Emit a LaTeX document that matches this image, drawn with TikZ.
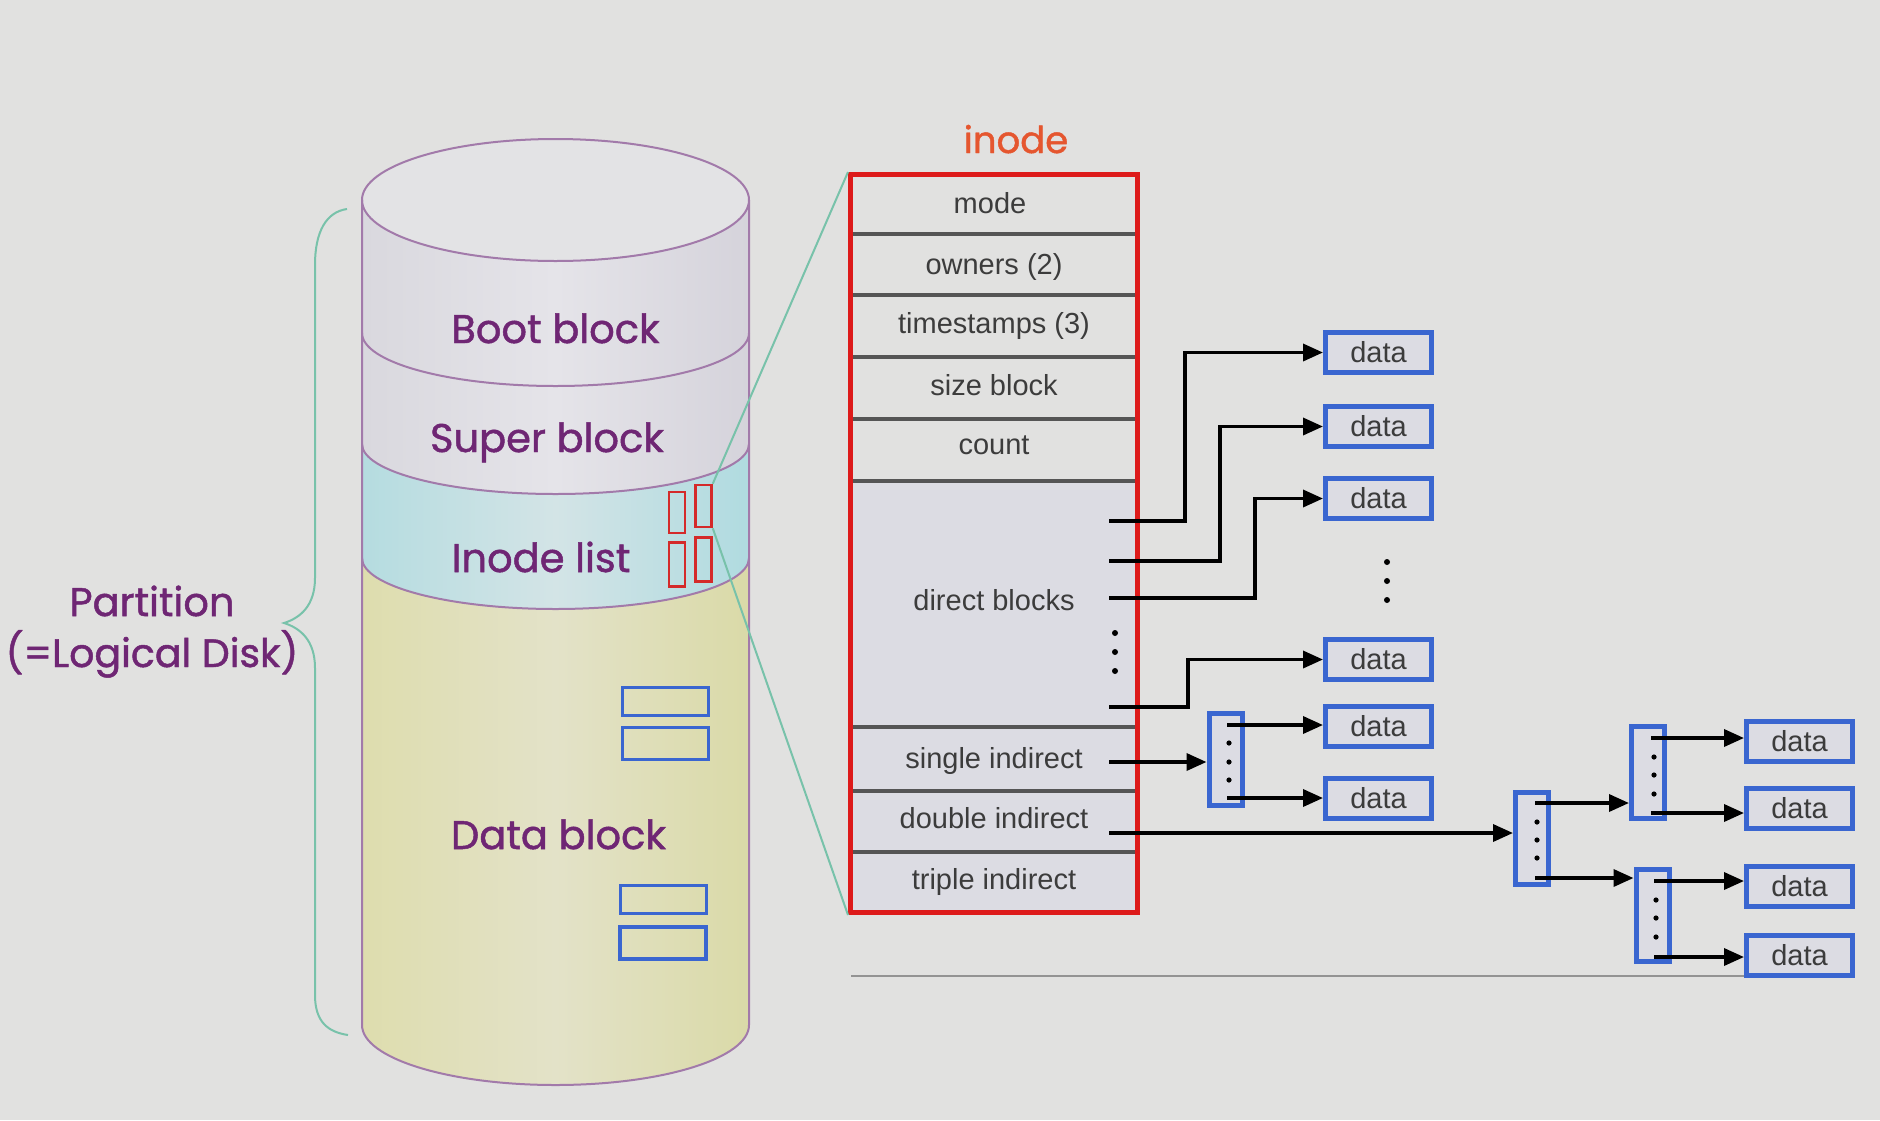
\documentclass[tikz,border=0pt]{standalone}
\usepackage{fontspec}
\setmainfont{Liberation Sans}
\newfontfamily\comic[FakeBold=1.2]{Poppins}
\usetikzlibrary{arrows.meta,calc}
\definecolor{bg}{HTML}{E1E1E0}
\definecolor{cylline}{HTML}{A27AAA}
\definecolor{purpletext}{HTML}{6F2674}
\definecolor{inodered}{HTML}{DD1A1A}
\definecolor{smallred}{HTML}{D42A2A}
\definecolor{blockblue}{HTML}{3A66D0}
\definecolor{tealline}{HTML}{78C2AA}
\definecolor{rowtext}{HTML}{3C3C3C}
\definecolor{lav}{HTML}{DCDCE3}
\definecolor{sepgray}{HTML}{555555}
\definecolor{inodelabel}{HTML}{E5562F}
\definecolor{dataL}{HTML}{DEDDAE}
\definecolor{dataR}{HTML}{DADAA8}
\definecolor{dataM}{HTML}{E3E2C8}
\definecolor{inoL}{HTML}{B5DCE0}
\definecolor{inoR}{HTML}{B0DBE0}
\definecolor{inoM}{HTML}{D3E4E6}
\definecolor{bandL}{HTML}{D9D8DE}
\definecolor{bandR}{HTML}{D5D3DB}
\definecolor{bandM}{HTML}{E5E4E9}
\definecolor{topfill}{HTML}{E3E3E5}
\begin{document}
\begin{tikzpicture}[x=1pt,y=1pt,
  cyltext/.style={font=\comic\fontsize{40}{46}\selectfont, text=purpletext, anchor=base, inner sep=0pt},
  rowlabel/.style={font=\fontsize{29}{34}\selectfont, text=rowtext, anchor=base, inner sep=0pt},
  databox/.style={draw=blockblue, line width=5pt, fill=lav, minimum width=106pt, minimum height=40pt, inner sep=0pt, font=\fontsize{29}{34}\selectfont, text=rowtext},
  idxbox/.style={draw=blockblue, line width=5pt, fill=lav, minimum width=33pt, minimum height=92pt, inner sep=0pt},
  redrect/.style={draw=smallred, line width=2.5pt, minimum width=16pt, inner sep=0pt},
  bluerect/.style={draw=blockblue, line width=3.5pt, minimum width=86pt, inner sep=0pt},
  ptr/.style={draw=black, line width=3.5pt, -{Triangle[length=20pt,width=17pt]}},
  sepline/.style={draw=sepgray, line width=3.5pt},
  cyl/.style={draw=cylline, line width=2pt},
  dotc/.style={fill=black}
]
\useasboundingbox (0,0) rectangle (1880,-1120);
\fill[bg] (0,0) rectangle (1880,-1120);

% ---------- cylinder ----------
\path[left color=dataL, right color=dataR, middle color=dataM] (362,-558) -- (362,-1025)
  arc[start angle=180,end angle=360,x radius=193.5,y radius=60] -- (749,-558)
  arc[start angle=0,end angle=-180,x radius=193.5,y radius=51] -- cycle;
\path[left color=inoL, right color=inoR, middle color=inoM] (362,-444) -- (362,-558)
  arc[start angle=180,end angle=360,x radius=193.5,y radius=51] -- (749,-444)
  arc[start angle=0,end angle=-180,x radius=193.5,y radius=50] -- cycle;
\path[left color=bandL, right color=bandR, middle color=bandM] (362,-333) -- (362,-444)
  arc[start angle=180,end angle=360,x radius=193.5,y radius=50] -- (749,-333)
  arc[start angle=0,end angle=-180,x radius=193.5,y radius=53] -- cycle;
\path[left color=bandL, right color=bandR, middle color=bandM] (362,-200) -- (362,-333)
  arc[start angle=180,end angle=360,x radius=193.5,y radius=53] -- (749,-200)
  arc[start angle=0,end angle=-180,x radius=193.5,y radius=61] -- cycle;
\path[fill=topfill] (555.5,-200) ellipse[x radius=193.5,y radius=61];
\draw[cyl] (555.5,-200) ellipse[x radius=193.5,y radius=61];
\draw[cyl] (362,-200) -- (362,-1025) arc[start angle=180,end angle=360,x radius=193.5,y radius=60] -- (749,-200);
\draw[cyl] (362,-333) arc[start angle=180,end angle=360,x radius=193.5,y radius=53];
\draw[cyl] (362,-444) arc[start angle=180,end angle=360,x radius=193.5,y radius=50];
\draw[cyl] (362,-558) arc[start angle=180,end angle=360,x radius=193.5,y radius=51];

\node[cyltext] (boot) at (555.5,-343) {Boot block};
\node[cyltext] (super) at (547,-452) {Super block};
\node[cyltext] (ilist) at (541,-572) {Inode list};
\node[cyltext] (dblock) at (558.5,-849) {Data block};

% small red inode rects
\node[redrect, minimum height=41pt] (r1) at (677,-512.5) {};
\node[redrect, minimum height=42pt] (r2) at (703.5,-506) {};
\node[redrect, minimum height=44pt] (r3) at (677,-564.5) {};
\node[redrect, minimum height=44pt] (r4) at (703.5,-559.5) {};

% small blue data rects
\node[bluerect, minimum height=28pt] (b1) at (665.5,-701.5) {};
\node[bluerect, minimum height=32pt] (b2) at (665.5,-743.5) {};
\node[bluerect, minimum height=28pt] (b3) at (663.5,-899.5) {};
\node[bluerect, minimum height=32pt] (b4) at (663,-943) {};

% partition brace and label
\draw[tealline, line width=2pt] (347,-209) .. controls (326,-212) and (315,-232) .. (315,-265)
  -- (315,-578) .. controls (315,-606) and (300,-618) .. (284,-623)
  .. controls (300,-628) and (315,-640) .. (315,-668)
  -- (315,-995) .. controls (315,-1022) and (328,-1032) .. (348,-1035);
\node[cyltext, font=\comic\fontsize{40}{46}\selectfont] (part1) at (152,-616) {Partition};
\node[cyltext, font=\comic\fontsize{39.5}{46}\selectfont] (part2) at (152,-667) {(=Logical Disk)};

% ---------- inode ----------
\fill[lav] (853,-481) rectangle (1135,-913);
\node[draw=inodered, line width=5pt, minimum width=287pt, minimum height=738pt, inner sep=0pt] (ibox) at (994,-543.5) {};
\node[cyltext, text=inodelabel, font=\comic\fontsize{37}{42}\selectfont] (ilabel) at (1016,-153) {inode};
\foreach \yy in {234,295,357,419,481,727,791,852}
  \draw[sepline] (853,-\yy) -- (1135,-\yy);
\node[rowlabel] (mode) at (990,-213) {mode};
\node[rowlabel] (owners) at (994,-274) {owners (2)};
\node[rowlabel] (times) at (994,-333) {timestamps (3)};
\node[rowlabel] (size) at (994,-395) {size block};
\node[rowlabel] (count) at (994,-454) {count};
\node[rowlabel] (direct) at (994,-610) {direct blocks};
\node[rowlabel] (single) at (994,-768) {single indirect};
\node[rowlabel] (double) at (994,-828) {double indirect};
\node[rowlabel] (triple) at (994,-889) {triple indirect};
\foreach \yy in {633,652,671} \fill[dotc] (1115,-\yy) circle (3);

% teal zoom lines
\draw[tealline, line width=2pt] (r2.north east) -- (ibox.north west);
\draw[tealline, line width=2pt] (r2.south east) -- (ibox.south west);

% ---------- data boxes ----------
\node[databox] (d1) at (1378.5,-352.5) {data};
\node[databox] (d2) at (1378.5,-426.5) {data};
\node[databox] (d3) at (1378.5,-498.5) {data};
\node[databox] (d4) at (1378.5,-659.5) {data};
\node[databox] (d5) at (1378.5,-726.5) {data};
\node[databox] (d6) at (1378.5,-798.5) {data};
\node[databox] (da) at (1799.5,-741) {data};
\node[databox] (db) at (1799.5,-808.5) {data};
\node[databox] (dc) at (1799.5,-886) {data};
\node[databox] (dd) at (1799.5,-955) {data};
\foreach \yy in {562,581,600} \fill[dotc] (1387,-\yy) circle (3);

% index blocks
\node[idxbox] (i1) at (1225.5,-759) {};
\node[idxbox] (i2) at (1532,-838) {};
\node[idxbox] (i3) at (1648,-772.5) {};
\node[idxbox] (i4) at (1652.5,-915) {};
\foreach \yy in {743,762,780} \fill[dotc] (1229,-\yy) circle (2.6);
\foreach \yy in {822,840,858} \fill[dotc] (1537,-\yy) circle (2.6);
\foreach \yy in {757,775,794} \fill[dotc] (1654,-\yy) circle (2.6);
\foreach \yy in {900,918,937} \fill[dotc] (1656,-\yy) circle (2.6);

% pointer start coordinates
\coordinate (p1) at (1109,-521);
\coordinate (p2) at (1109,-561);
\coordinate (p3) at (1109,-598);
\coordinate (p4) at (1109,-707);
\coordinate (ps) at (1109,-762);
\coordinate (pd) at (1109,-833);
\coordinate (s1a) at (1227,-725);
\coordinate (s1b) at (1227,-798);
\coordinate (s2a) at (1535,-803);
\coordinate (s2b) at (1535,-878);
\coordinate (s3a) at (1651,-738);
\coordinate (s3b) at (1651,-813);
\coordinate (s4a) at (1654,-881);
\coordinate (s4b) at (1654,-957);

\draw[ptr] (p1) -- ++(76,0) |- (d1.west);
\draw[ptr] (p2) -- ++(111,0) |- (d2.west);
\draw[ptr] (p3) -- ++(146,0) |- (d3.west);
\draw[ptr] (p4) -- ++(79,0) |- (d4.west);
\draw[ptr] (ps) -- (ps -| i1.west);
\draw[ptr] (pd) -- (pd -| i2.west);
\draw[ptr] (s1a) -- (s1a -| d5.west);
\draw[ptr] (s1b) -- (s1b -| d6.west);
\draw[ptr] (s2a) -- (s2a -| i3.west);
\draw[ptr] (s2b) -- (s2b -| i4.west);
\draw[ptr] (s3a) -- (s3a -| da.west);
\draw[ptr] (s3b) -- (s3b -| db.west);
\draw[ptr] (s4a) -- (s4a -| dc.west);
\draw[ptr] (s4b) -- (s4b -| dd.west);

% bottom gray line
\coordinate (gl) at (851,-976);
\draw[draw=gray!85, line width=2.5pt] (gl) -- (gl -| dd.west);
\end{tikzpicture}
\end{document}
